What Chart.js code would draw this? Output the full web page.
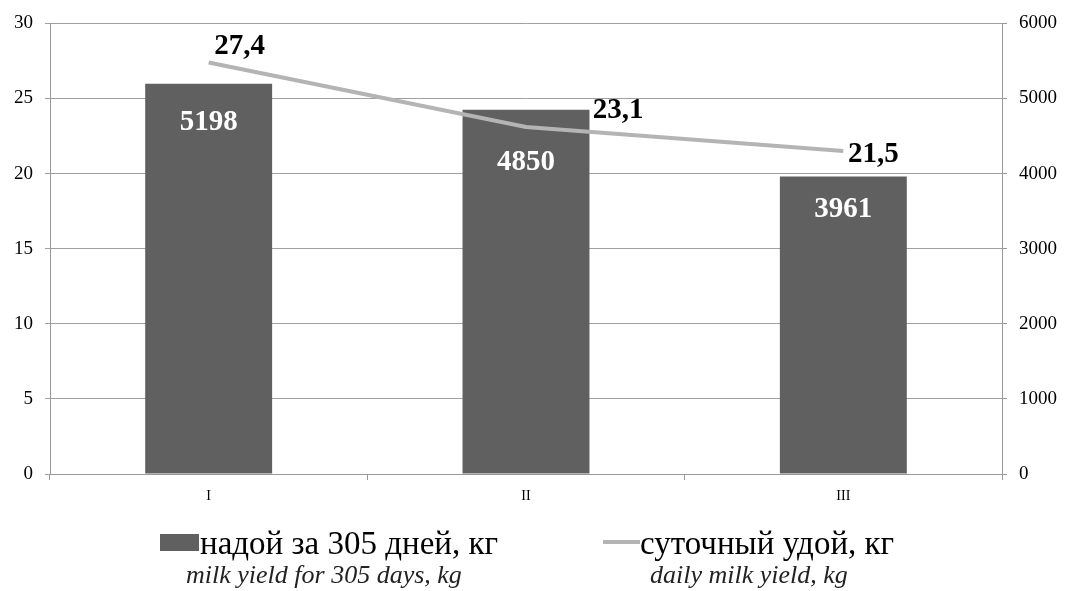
<!DOCTYPE html>
<html>
<head>
<meta charset="utf-8">
<script src="https://cdn.jsdelivr.net/npm/chart.js@4.4.1/dist/chart.umd.min.js"></script>
<style>
  body { margin: 0; background: #fff; }
  #wrap { position: relative; width: 1069px; height: 591px; font-family: "Liberation Serif", "Times New Roman", serif; }
  canvas { position: absolute; left: 0; top: 0; }
  .leg { position: absolute; white-space: nowrap; color: #000; }
  .ru { font-size: 33px; line-height: 36px; }
  .en { font-size: 26px; line-height: 30px; font-style: italic; color: #222; }
</style>
</head>
<body>
<div id="wrap">
  <canvas id="chart" width="1069" height="591"></canvas>
  <div class="leg" style="left:160px; top:534px; width:39px; height:17px; background:#606060;"></div>
  <div class="leg ru" style="left:200px; top:525px;">надой за 305 дней, кг</div>
  <div class="leg en" style="left:186px; top:560px;">milk yield for 305 days, kg</div>
  <div class="leg" style="left:603px; top:540px; width:37px; height:4px; background:#b4b4b4;"></div>
  <div class="leg ru" style="left:640px; top:525px;">суточный удой, кг</div>
  <div class="leg en" style="left:650px; top:560px;">daily milk yield, kg</div>
</div>
<script>
// данные
const groups = ['I', 'II', 'III'];
const yield305 = [5198, 4850, 3961];      // надой за 305 дней, кг (правая ось)
const dailyYield = [27.4, 23.1, 21.5];     // суточный удой, кг (левая ось)
const leftTicks = [0, 5, 10, 15, 20, 25, 30];
const rightTicks = [0, 1000, 2000, 3000, 4000, 5000, 6000];

// смещения подписей (как в оригинале, подписи сдвинуты вручную)
const lineLabelShift = [[31, -16], [92, -17], [30, 3]];
const barLabelShift = [39, 53, 33];

const labelsPlugin = {
  id: 'labels',
  afterDatasetsDraw(chart) {
    const ctx = chart.ctx;
    ctx.save();
    ctx.textAlign = 'center';
    ctx.textBaseline = 'middle';
    ctx.font = 'bold 29px "Liberation Serif", serif';

    const bars = chart.getDatasetMeta(0).data;
    ctx.fillStyle = '#ffffff';
    bars.forEach((b, i) => {
      ctx.fillText(String(yield305[i]), b.x, b.y + barLabelShift[i]);
    });

    const pts = chart.getDatasetMeta(1).data;
    ctx.fillStyle = '#000000';
    pts.forEach((p, i) => {
      const txt = dailyYield[i].toFixed(1).replace('.', ',');
      ctx.fillText(txt, p.x + lineLabelShift[i][0], p.y + lineLabelShift[i][1]);
    });
    ctx.restore();
  }
};

const ctx = document.getElementById('chart').getContext('2d');
new Chart(ctx, {
  data: {
    labels: groups,
    datasets: [{
      type: 'bar',
      label: 'надой за 305 дней, кг',
      data: yield305,
      yAxisID: 'y1',
      backgroundColor: '#606060',
      barPercentage: 0.4,
      categoryPercentage: 1.0,
      order: 2
    }, {
      type: 'line',
      label: 'суточный удой, кг',
      data: dailyYield,
      yAxisID: 'y',
      borderColor: '#b4b4b4',
      borderWidth: 4,
      pointRadius: 0,
      tension: 0,
      fill: false,
      order: 1
    }]
  },
  options: {
    responsive: false,
    animation: false,
    layout: { padding: { top: 18 } },
    plugins: {
      legend: { display: false },
      tooltip: { enabled: false }
    },
    scales: {
      x: {
        offset: true,
        afterFit: s => { s.height = 117; },
        grid: { offset: true, drawOnChartArea: false, drawTicks: true, tickLength: 6, color: '#999999' },
        border: { color: '#999999' },
        ticks: { color: '#000', padding: 8, font: { family: '"Liberation Serif", serif', size: 14 } }
      },
      y: {
        position: 'left',
        min: 0,
        max: 30,
        afterFit: s => { s.width = 50; },
        afterBuildTicks: s => { s.ticks = leftTicks.map(v => ({ value: v })); },
        grid: { color: '#a0a0a0', tickLength: 5 },
        border: { color: '#999999' },
        ticks: { color: '#000', padding: 12, font: { family: '"Liberation Serif", serif', size: 19 } }
      },
      y1: {
        position: 'right',
        min: 0,
        max: 6000,
        afterFit: s => { s.width = 67; },
        afterBuildTicks: s => { s.ticks = rightTicks.map(v => ({ value: v })); },
        grid: { drawOnChartArea: false, tickLength: 5, color: '#999999' },
        border: { color: '#999999' },
        ticks: {
          color: '#000', padding: 12,
          font: { family: '"Liberation Serif", serif', size: 19 },
          callback: v => String(v)
        }
      }
    }
  },
  plugins: [labelsPlugin]
});
</script>
</body>
</html>
